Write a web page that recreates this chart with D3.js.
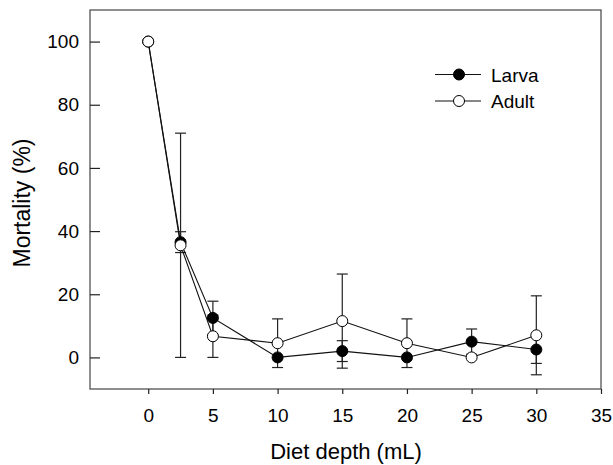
<!DOCTYPE html>
<html>
<head>
<meta charset="utf-8">
<script src="https://cdn.jsdelivr.net/npm/d3@7"></script>
<style>
  html, body { margin: 0; padding: 0; background: #fff; }
  svg { display: block; }
  text { font-family: Arial, "Liberation Sans", sans-serif; fill: #000; }
</style>
</head>
<body>
<svg id="chart" width="613" height="465"></svg>
<script>
const depths = [0, 2.5, 5, 10, 15, 20, 25, 30];
const larvaMean = [100, 36.5, 12.5, 0, 2, 0, 5, 2.5];
const larvaErr  = [0, 3.3, 5.3, 0, 3.3, 0, 4, 4.4];
const adultMean = [100, 35.5, 6.7, 4.5, 11.5, 4.5, 0, 7];
const adultErr  = [0, 35.5, 6.7, 7.7, 14.9, 7.7, 0, 12.5];
const xTicks = [0, 5, 10, 15, 20, 25, 30, 35];
const yTicks = [0, 20, 40, 60, 80, 100];
const seriesNames = ["Larva", "Adult"];

(function () {
const svg = d3.select("#chart");
const pL = 90, pR = 601, pT = 10, pB = 389;
const x = d3.scaleLinear().domain([-4.5, 35]).range([pL, pR]);
const y = d3.scaleLinear().domain([-10, 110]).range([pB, pT]);
const FF = "Arial, 'Liberation Sans', sans-serif";

// frame
svg.append("rect").attr("x", pL).attr("y", pT)
  .attr("width", pR - pL).attr("height", pB - pT)
  .attr("fill", "none").attr("stroke", "#444").attr("stroke-width", 1.2);

// x axis (outward ticks)
const xAxis = svg.append("g").attr("transform", `translate(0,${pB})`)
  .call(d3.axisBottom(x).tickValues(xTicks).tickSize(5).tickPadding(15).tickFormat(d3.format("d")));
xAxis.select(".domain").remove();
xAxis.selectAll(".tick line").attr("stroke", "#222").attr("stroke-width", 1.2);
xAxis.selectAll("text").attr("font-size", 19).style("font-family", FF).attr("fill", "#000");

// y axis (inward ticks)
const yAxis = svg.append("g").attr("transform", `translate(${pL},0)`)
  .call(d3.axisLeft(y).tickValues(yTicks).tickSize(-10).tickPadding(11).tickFormat(d3.format("d")));
yAxis.select(".domain").remove();
yAxis.selectAll(".tick line").attr("stroke", "#222").attr("stroke-width", 1.2);
yAxis.selectAll("text").attr("font-size", 19).attr("x", -11).style("font-family", FF).attr("fill", "#000");

// axis titles
svg.append("text").attr("x", 346).attr("y", 459)
  .attr("text-anchor", "middle").attr("font-size", 22).text("Diet depth (mL)");
svg.append("text").attr("transform", `translate(30,203) rotate(-90)`)
  .attr("text-anchor", "middle").attr("font-size", 23).text("Mortality (%)");

const larva = depths.map((d, i) => ({ x: d, m: larvaMean[i], e: larvaErr[i] }));
const adult = depths.map((d, i) => ({ x: d, m: adultMean[i], e: adultErr[i] }));
const series = [
  { name: seriesNames[0], data: larva, fill: "#000" },
  { name: seriesNames[1], data: adult, fill: "#fff" }
];

const cap = 5.5;
const errG = svg.append("g");
series.forEach(s => {
  s.data.filter(d => d.e > 0).forEach(d => {
    const g = errG.append("g").attr("stroke", "#222").attr("stroke-width", 1.2);
    g.append("line").attr("x1", x(d.x)).attr("x2", x(d.x)).attr("y1", y(d.m - d.e)).attr("y2", y(d.m + d.e));
    g.append("line").attr("x1", x(d.x) - cap).attr("x2", x(d.x) + cap).attr("y1", y(d.m + d.e)).attr("y2", y(d.m + d.e));
    g.append("line").attr("x1", x(d.x) - cap).attr("x2", x(d.x) + cap).attr("y1", y(d.m - d.e)).attr("y2", y(d.m - d.e));
  });
});

const line = d3.line().x(d => x(d.x)).y(d => y(d.m));
series.forEach(s => {
  svg.append("path").datum(s.data).attr("d", line)
    .attr("fill", "none").attr("stroke", "#111").attr("stroke-width", 1.1);
});
series.forEach(s => {
  svg.append("g").selectAll("circle").data(s.data).join("circle")
    .attr("cx", d => x(d.x)).attr("cy", d => y(d.m)).attr("r", 5.5)
    .attr("fill", s.fill).attr("stroke", "#000").attr("stroke-width", 1);
});

// legend
const leg = svg.append("g");
series.forEach((s, i) => {
  const ly = 74.5 + i * 26.5;
  leg.append("line").attr("x1", 435).attr("x2", 481).attr("y1", ly).attr("y2", ly)
    .attr("stroke", "#111").attr("stroke-width", 1.1);
  leg.append("circle").attr("cx", 459).attr("cy", ly).attr("r", 5.5)
    .attr("fill", s.fill).attr("stroke", "#000").attr("stroke-width", 1);
  leg.append("text").attr("x", 491).attr("y", ly + 7).attr("font-size", 19).text(s.name);
});
})();
</script>
</body>
</html>
